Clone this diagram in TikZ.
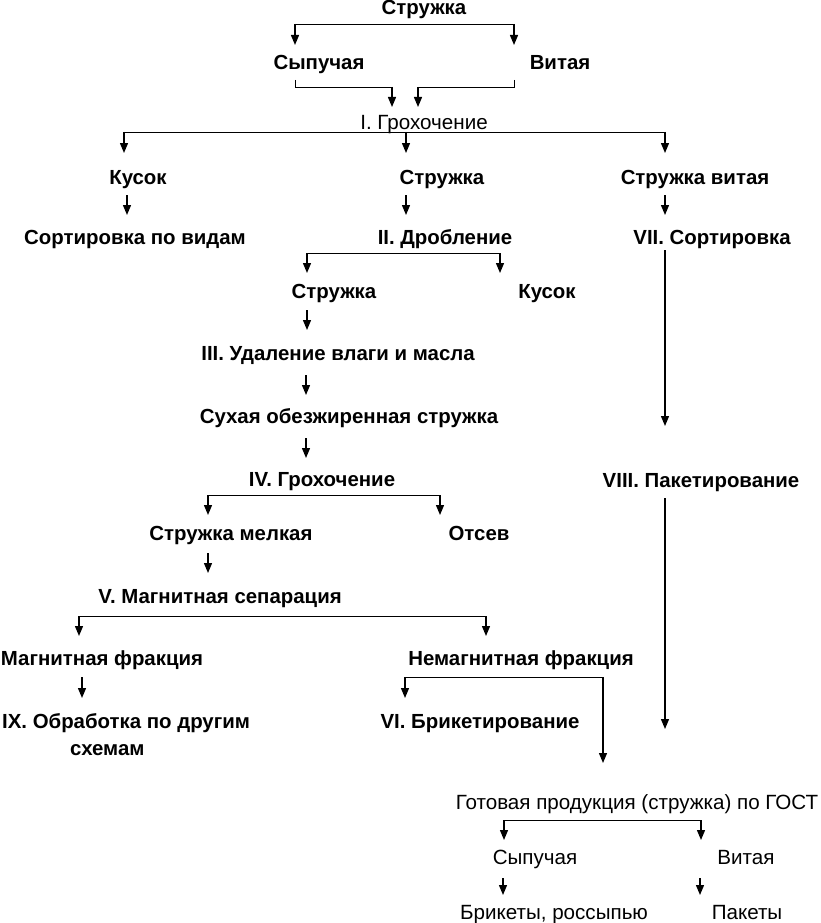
\documentclass[tikz,border=0pt]{standalone}
\usepackage{fontspec}
\setmainfont{Liberation Sans}
\usetikzlibrary{arrows.meta}
\tikzset{
  bt/.style={font=\bfseries\fontsize{20.4}{27}\selectfont, inner sep=0pt, anchor=base},
  rt/.style={font=\fontsize{20.6}{27}\selectfont, inner sep=0pt, anchor=base},
  arr/.style={-{Triangle[width=8pt,length=10pt]}, line width=1.3pt, black},
  bar/.style={line width=0.8pt, black},
}
\begin{document}
\begin{tikzpicture}[x=1pt,y=-1pt]
\useasboundingbox[fill=white] (0,0) rectangle (821,923);
% ---------- nodes ----------
\node[bt] (s0)    at (424,15)  {Стружка};
\node[bt] (syp)   at (319,70)  {Сыпучая};
\node[bt] (vit)   at (560,70)  {Витая};
\node[rt] (g1)    at (424,130) {I. Грохочение};
\node[bt] (kus)   at (138,184) {Кусок};
\node[bt] (str2)  at (442,184) {Стружка};
\node[bt] (strv)  at (695,184) {Стружка витая};
\node[bt] (sort)  at (135,244) {Сортировка по видам};
\node[bt] (drob)  at (445,244) {II. Дробление};
\node[bt] (sort7) at (712,244) {VII. Сортировка};
\node[bt] (str3)  at (334,298) {Стружка};
\node[bt] (kus2)  at (547,298) {Кусок};
\node[bt] (udal)  at (338,360) {III. Удаление влаги и масла};
\node[bt] (sukh)  at (349,423) {Сухая обезжиренная стружка};
\node[bt] (g4)    at (322,486) {IV. Грохочение};
\node[bt] (paket) at (701,487) {VIII. Пакетирование};
\node[bt] (melk)  at (231,540) {Стружка мелкая};
\node[bt] (otsev) at (479,540) {Отсев};
\node[bt] (msep)  at (220,603) {V. Магнитная сепарация};
\node[bt] (mfr)   at (102,665) {Магнитная фракция};
\node[bt] (nmfr)  at (521,665) {Немагнитная фракция};
\node[bt, anchor=base west, align=left] (obr) at (2,755) {IX. Обработка по другим\\\hspace*{68pt}схемам};
\node[bt] (brik)  at (480,728) {VI. Брикетирование};
\node[rt] (gotov) at (637,809) {Готовая продукция (стружка) по ГОСТ};
\node[rt] (syp2)  at (535,864) {Сыпучая};
\node[rt] (vit2)  at (746,864) {Витая};
\node[rt] (brk2)  at (554,919) {Брикеты, россыпью};
\node[rt] (pak)   at (747,919) {Пакеты};
% ---------- connector points ----------
\coordinate (c1a) at (295,24);  \coordinate (c1b) at (514,24);
\coordinate (c1c) at (295,45);  \coordinate (c1d) at (514,45);
\coordinate (c2a) at (295,80);  \coordinate (c2b) at (392,87);  \coordinate (c2c) at (392,107);
\coordinate (c2d) at (514,80);  \coordinate (c2e) at (418,87);  \coordinate (c2f) at (418,107);
\coordinate (c3a) at (124,132); \coordinate (c3b) at (665,132); \coordinate (c3m) at (406,132);
\coordinate (c3c) at (124,153); \coordinate (c3d) at (406,153); \coordinate (c3e) at (665,153);
\coordinate (c4a) at (127,195); \coordinate (c4b) at (127,215);
\coordinate (c4c) at (406,195); \coordinate (c4d) at (406,215);
\coordinate (c4e) at (665,195); \coordinate (c4f) at (665,215);
\coordinate (c5a) at (307,253); \coordinate (c5b) at (500,253);
\coordinate (c5c) at (307,273); \coordinate (c5d) at (500,273);
\coordinate (c6a) at (307,310); \coordinate (c6b) at (307,330);
\coordinate (c7a) at (306,375); \coordinate (c7b) at (306,395);
\coordinate (c8a) at (306,438); \coordinate (c8b) at (306,458);
\coordinate (c9a) at (208,495); \coordinate (c9b) at (440,495);
\coordinate (c9c) at (208,515); \coordinate (c9d) at (440,515);
\coordinate (c10a) at (208,553); \coordinate (c10b) at (208,573);
\coordinate (c11a) at (79,616); \coordinate (c11b) at (486,616);
\coordinate (c11c) at (79,636); \coordinate (c11d) at (486,636);
\coordinate (c12a) at (82,677); \coordinate (c12b) at (82,698);
\coordinate (c13a) at (405,677); \coordinate (c13b) at (603,677);
\coordinate (c13c) at (405,698); \coordinate (c13d) at (603,763);
\coordinate (c14a) at (665,250); \coordinate (c14b) at (665,426);
\coordinate (c15a) at (665,498); \coordinate (c15b) at (665,729);
\coordinate (c16a) at (504,820); \coordinate (c16b) at (701,820);
\coordinate (c16c) at (504,840); \coordinate (c16d) at (701,840);
\coordinate (c17a) at (503,878); \coordinate (c17b) at (503,895);
\coordinate (c17c) at (700,878); \coordinate (c17d) at (700,895);
% ---------- connectors ----------
\draw[bar] (c1a) -- (c1b);
\draw[arr] (c1a) -- (c1c);
\draw[arr] (c1b) -- (c1d);
\draw[bar] (c2a) |- (c2b);
\draw[arr] (c2b) -- (c2c);
\draw[bar] (c2d) |- (c2e);
\draw[arr] (c2e) -- (c2f);
\draw[bar] (c3a) -- (c3b);
\draw[arr] (c3a) -- (c3c);
\draw[arr] (c3m) -- (c3d);
\draw[arr] (c3b) -- (c3e);
\draw[arr] (c4a) -- (c4b);
\draw[arr] (c4c) -- (c4d);
\draw[arr] (c4e) -- (c4f);
\draw[bar] (c5a) -- (c5b);
\draw[arr] (c5a) -- (c5c);
\draw[arr] (c5b) -- (c5d);
\draw[arr] (c6a) -- (c6b);
\draw[arr] (c7a) -- (c7b);
\draw[arr] (c8a) -- (c8b);
\draw[bar] (c9a) -- (c9b);
\draw[arr] (c9a) -- (c9c);
\draw[arr] (c9b) -- (c9d);
\draw[arr] (c10a) -- (c10b);
\draw[bar] (c11a) -- (c11b);
\draw[arr] (c11a) -- (c11c);
\draw[arr] (c11b) -- (c11d);
\draw[arr] (c12a) -- (c12b);
\draw[bar] (c13a) -- (c13b);
\draw[arr] (c13a) -- (c13c);
\draw[arr] (c13b) -- (c13d);
\draw[arr] (c14a) -- (c14b);
\draw[arr] (c15a) -- (c15b);
\draw[bar] (c16a) -- (c16b);
\draw[arr] (c16a) -- (c16c);
\draw[arr] (c16b) -- (c16d);
\draw[arr] (c17a) -- (c17b);
\draw[arr] (c17c) -- (c17d);
\end{tikzpicture}
\end{document}
